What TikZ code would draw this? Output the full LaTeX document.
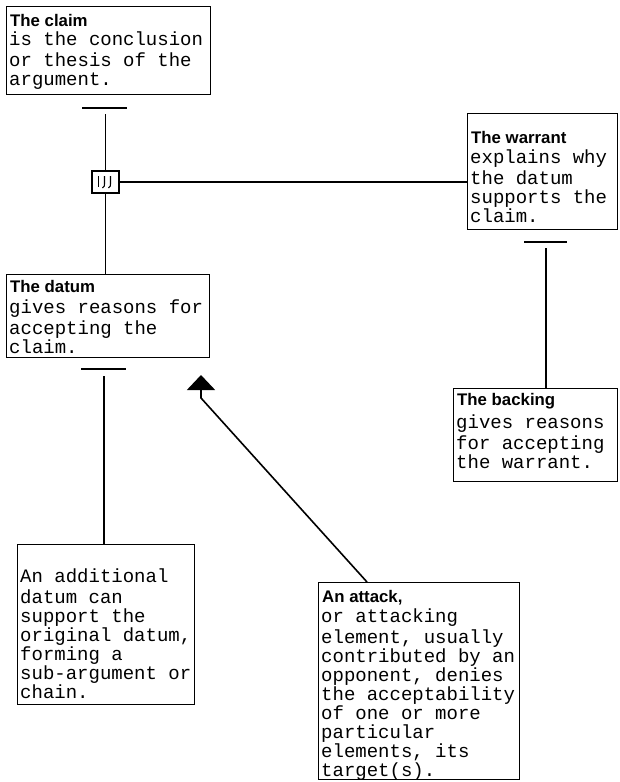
\documentclass[tikz,border=0pt]{standalone}
\usepackage{fontspec}
\usetikzlibrary{arrows.meta}
\newfontfamily\monoF{Liberation Mono}
\newfontfamily\sansF{Liberation Sans}
\tikzset{
  box/.style={draw, line width=1.4pt, anchor=north west, inner sep=0pt},
  ttl/.style={font=\fontsize{16.8}{17}\selectfont\sansF\bfseries, anchor=base west, inner sep=0pt},
  body/.style={font=\fontsize{19}{19}\selectfont\monoF, align=left, anchor=north west, inner sep=0pt},
  conn/.style={line width=1.6pt},
  bar/.style={line width=2.6pt},
}
\begin{document}
\begin{tikzpicture}[x=1pt,y=-1pt]
\useasboundingbox[fill=white] (0,0) rectangle (619,782);
% boxes
\node[box, minimum width=204pt, minimum height=88pt] (claim) at (6,6) {};
\node[ttl] (claimT) at (10,26) {The claim};
\node[body] (claimB) at (9,31.7) {\strut is the conclusion\\or thesis of the\\argument.};

\node[box, minimum width=150pt, minimum height=116pt] (warrant) at (467,113) {};
\node[ttl] (warrantT) at (471,143) {The warrant};
\node[body] (warrantB) at (470,149.7) {\strut explains why\\the datum\\supports the\\claim.};

\node[box, minimum width=203pt, minimum height=83pt] (datum) at (6,274) {};
\node[ttl] (datumT) at (10,292) {The datum};
\node[body] (datumB) at (9,299.7) {\strut gives reasons for\\accepting the\\claim.};

\node[box, minimum width=164pt, minimum height=93pt] (backing) at (453,388) {};
\node[ttl] (backingT) at (457,405) {The backing};
\node[body] (backingB) at (456,414.7) {\strut gives reasons\\for accepting\\the warrant.};

\node[box, minimum width=177pt, minimum height=160pt] (additional) at (17,544) {};
\node[body] (additionalB) at (20,568.7) {\strut An additional\\datum can\\support the\\original datum,\\forming a\\sub-argument or\\chain.};

\node[box, minimum width=201pt, minimum height=197pt] (attack) at (318,582) {};
\node[ttl] (attackT) at (322,602) {An attack,};
\node[body] (attackB) at (321,608.7) {\strut or attacking\\element, usually\\contributed by an\\opponent, denies\\the acceptability\\of one or more\\particular\\elements, its\\target(s).};

% warrant symbol box
\node[draw, line width=1.4pt, minimum width=27pt, minimum height=22pt, inner sep=0pt] (sym) at (105.5,182) {};
\draw[line width=1.1pt] ([shift={(-7,-6)}]sym.center) -- ([shift={(-7,5)}]sym.center);
\draw[line width=1.1pt] ([shift={(-1,-6)}]sym.center) -- ([shift={(-1,2)}]sym.center) .. controls ([shift={(-1,4)}]sym.center) .. ([shift={(-3,6)}]sym.center);
\draw[line width=1.1pt] ([shift={(5,-6)}]sym.center) -- ([shift={(5,2)}]sym.center) .. controls ([shift={(5,4)}]sym.center) .. ([shift={(3,6)}]sym.center);

% bars (coordinates)
\coordinate (claimBarL) at (82,108);
\coordinate (claimBarR) at (127,108);
\coordinate (claimLineTop) at (105.5,114);
\draw[bar] (claimBarL) -- (claimBarR);
\draw[conn] (claimLineTop) -- (sym.north);
\draw[conn] (sym.south) -- (sym.south |- datum.north);
\draw[conn] (sym.east) -- (sym.east -| warrant.west);

\coordinate (warrantBarL) at (524,242);
\coordinate (warrantBarR) at (567,242);
\coordinate (warrantLineTop) at (546,248);
\draw[bar] (warrantBarL) -- (warrantBarR);
\draw[conn] (warrantLineTop) -- (warrantLineTop |- backing.north);

\coordinate (datumBarL) at (81,369);
\coordinate (datumBarR) at (126,369);
\coordinate (datumLineTop) at (104,376);
\draw[bar] (datumBarL) -- (datumBarR);
\draw[conn] (datumLineTop) -- (datumLineTop |- additional.north);

% attack arrow
\coordinate (attackTop) at (367,582);
\coordinate (bend) at (201,398);
\coordinate (tip) at (201,375);
\draw[conn, -{Triangle[width=28pt,length=15pt]}] (attackTop) -- (bend) -- (tip);
\end{tikzpicture}
\end{document}
